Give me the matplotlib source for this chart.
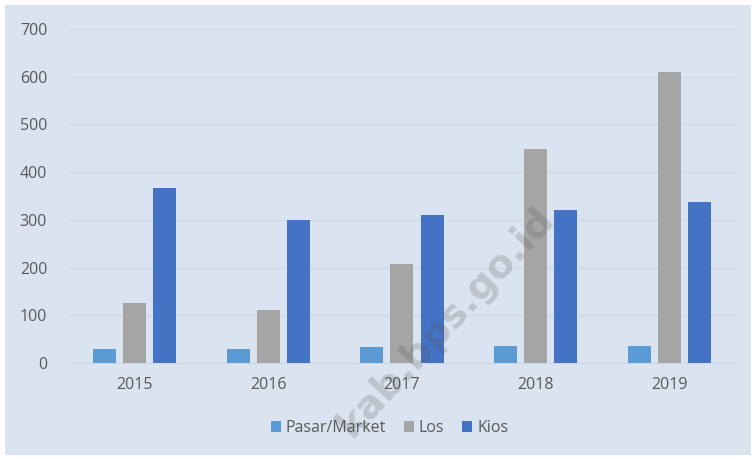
import matplotlib
matplotlib.use("Agg")
import matplotlib.pyplot as plt
import numpy as np
from matplotlib.patches import Rectangle

years = ["2015", "2016", "2017", "2018", "2019"]
pasar = [29, 29, 33, 36, 36]
los = [126, 111, 207, 449, 609]
kios = [367, 300, 311, 321, 338]
series_names = ["Pasar/Market", "Los", "Kios"]
colors = ["#5B9BD5", "#A5A5A5", "#4472C4"]
yticks = [0, 100, 200, 300, 400, 500, 600, 700]

bg = "#dae3f0"
txt = "#595959"
plt.rcParams['font.family'] = ['Open Sans', 'DejaVu Sans']

fig = plt.figure(figsize=(7.56, 4.59), dpi=100)
fig.patch.set_facecolor("white")
fig.patches.append(Rectangle((0.007, 0.008), 0.986, 0.982, transform=fig.transFigure,
                             facecolor=bg, edgecolor="none", zorder=-10))

ax = fig.add_axes([0.0899, 0.2092, 0.8836, 0.7276])
ax.set_facecolor("none")
x = np.arange(len(years))
w = 0.172
off = 0.225
for i, (vals, name, c) in enumerate(zip([pasar, los, kios], series_names, colors)):
    ax.bar(x + (i - 1) * off, vals, width=w, color=c, label=name, zorder=3)

ax.set_xlim(-0.5, 4.5)
ax.set_ylim(0, 700)
ax.set_yticks(yticks)
ax.set_yticklabels([str(v) for v in yticks])
ax.set_xticks(x)
ax.set_xticklabels(years)
ax.yaxis.grid(True, color="#d0d8e5", linewidth=1.0, zorder=0)
ax.set_axisbelow(True)
for s in ax.spines.values():
    s.set_visible(False)
ax.spines['bottom'].set_visible(True)
ax.spines['bottom'].set_color("#d0d8e5")
ax.tick_params(axis='both', length=0, colors=txt, labelsize=11.5)
ax.tick_params(axis='y', pad=15)
ax.tick_params(axis='x', pad=10)

leg = fig.legend(loc='center', bbox_to_anchor=(0.515, 0.0675), ncol=3, frameon=False,
                 fontsize=11.5, handlelength=0.65, handleheight=0.65, handletextpad=0.3,
                 columnspacing=1.1, labelcolor=txt)

fig.text(0.59, 0.30, "kab.bps.go.id", rotation=47, fontsize=28, fontweight='bold',
         color="#555555", alpha=0.22, ha='center', va='center', zorder=10,
         family=['DejaVu Sans'])

fig.savefig("out.png", dpi=100, facecolor=fig.get_facecolor())
